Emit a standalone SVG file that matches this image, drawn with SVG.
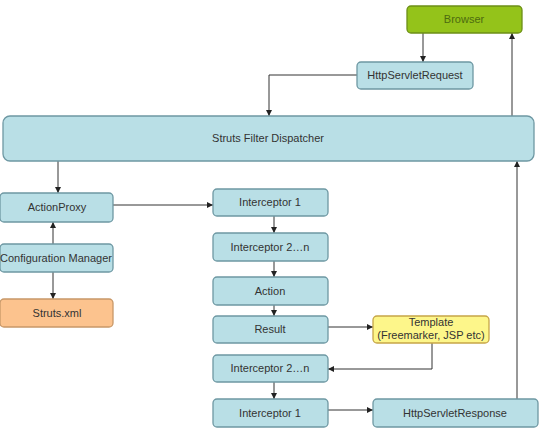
<svg xmlns="http://www.w3.org/2000/svg" width="542" height="437" viewBox="0 0 542 437">
<defs>
<marker id="ah" viewBox="0 0 10 10" refX="10" refY="5" markerWidth="6" markerHeight="6" markerUnits="userSpaceOnUse" orient="auto">
<path d="M0,0 L10,5 L0,10 z" fill="#222"/>
</marker>
</defs>
<style>
text{font-family:"Liberation Sans",Arial,sans-serif;font-size:11px;fill:#333;text-anchor:middle}
.box{fill:#b9dfe6;stroke:#6e98a3;stroke-width:1.3}
.green{fill:#94c31a;stroke:#6c8f17;stroke-width:1.3}
.orange{fill:#fcc38e;stroke:#c89868;stroke-width:1.3}
.yellow{fill:#fdf68a;stroke:#c6a548;stroke-width:1.3}
.con{fill:none;stroke:#333;stroke-width:1;marker-end:url(#ah)}
</style>
<rect width="542" height="437" fill="#fff"/>
<g id="connectors">
<path class="con" d="M423,33 V62"/>
<path class="con" d="M357,75 H269 V116"/>
<path class="con" d="M512,116 V33"/>
<path class="con" d="M58,161 V193"/>
<path class="con" d="M53,244 V222"/>
<path class="con" d="M53,272 V299"/>
<path class="con" d="M113,205 H213"/>
<path class="con" d="M274,216 V233"/>
<path class="con" d="M274,261 V277"/>
<path class="con" d="M274,305 V316"/>
<path class="con" d="M328,327 H373"/>
<path class="con" d="M432,343 V369 H328"/>
<path class="con" d="M274,382 V399"/>
<path class="con" d="M328,410 H373"/>
<path class="con" d="M517,399 V161"/>
</g>
<g id="browser"><rect class="green" x="407" y="6" width="115" height="27" rx="4"/><text x="464" y="23" style="fill:#4d6b10">Browser</text></g>
<g id="request"><rect class="box" x="357" y="62" width="116" height="27" rx="4"/><text x="415" y="79">HttpServletRequest</text></g>
<g id="dispatcher"><rect class="box" x="3" y="116" width="531" height="45" rx="7"/><text x="268" y="142">Struts Filter Dispatcher</text></g>
<g id="actionproxy"><rect class="box" x="0" y="193" width="113" height="29" rx="4"/><text x="57" y="211">ActionProxy</text></g>
<g id="configmanager"><rect class="box" x="0" y="244" width="113" height="28" rx="4"/><text x="56" y="262">Configuration Manager</text></g>
<g id="strutsxml"><rect class="orange" x="0" y="299" width="113" height="28" rx="4"/><text x="57" y="317">Struts.xml</text></g>
<g id="interceptor1a"><rect class="box" x="213" y="189" width="115" height="27" rx="4"/><text x="270" y="206">Interceptor 1</text></g>
<g id="interceptor2a"><rect class="box" x="213" y="233" width="115" height="28" rx="4"/><text x="270" y="251">Interceptor 2…n</text></g>
<g id="action"><rect class="box" x="213" y="277" width="115" height="28" rx="4"/><text x="270" y="295">Action</text></g>
<g id="result"><rect class="box" x="213" y="316" width="115" height="27" rx="4"/><text x="270" y="333">Result</text></g>
<g id="template"><rect class="yellow" x="373" y="316" width="116" height="27" rx="4"/><text x="431" y="326">Template</text><text x="431" y="339">(Freemarker, JSP etc)</text></g>
<g id="interceptor2b"><rect class="box" x="213" y="355" width="115" height="27" rx="4"/><text x="270" y="372">Interceptor 2…n</text></g>
<g id="interceptor1b"><rect class="box" x="213" y="399" width="115" height="28" rx="4"/><text x="270" y="417">Interceptor 1</text></g>
<g id="response"><rect class="box" x="373" y="399" width="165" height="28" rx="4"/><text x="455" y="417">HttpServletResponse</text></g>
</svg>
